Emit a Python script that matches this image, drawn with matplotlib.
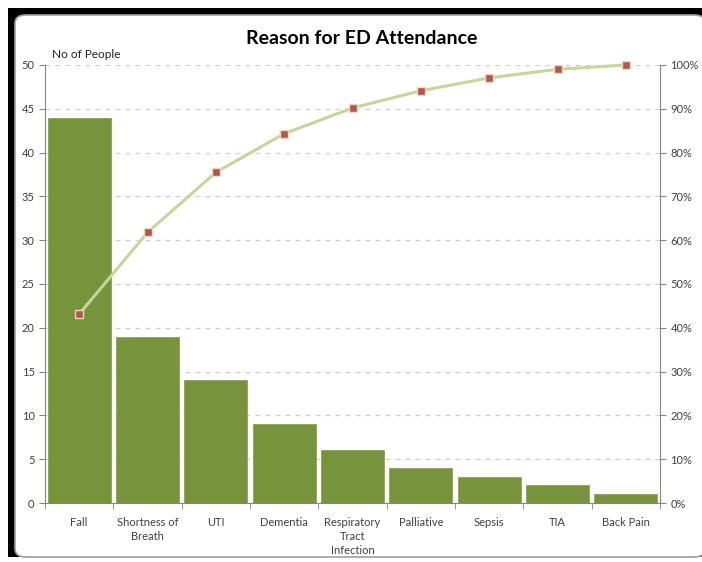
import numpy as np
import matplotlib
matplotlib.use("Agg")
import matplotlib.pyplot as plt
from matplotlib.patches import Rectangle, FancyBboxPatch
from matplotlib.ticker import PercentFormatter

plt.rcParams['font.family'] = ['Lato', 'DejaVu Sans']

# data
reasons = ["Fall", "Shortness of\nBreath", "UTI", "Dementia",
           "Respiratory\nTract\nInfection", "Palliative", "Sepsis", "TIA", "Back Pain"]
people = [44, 19, 14, 9, 6, 4, 3, 2, 1]

cum_pct = np.cumsum(people) / np.sum(people)

fig = plt.figure(figsize=(7.02, 5.62), dpi=100)
W, H = 702, 562

# black frame + white rounded card (card runs off the right edge)
fig.patches.append(Rectangle((8 / W, 5 / H), 1, 1 - 13 / H,
                             transform=fig.transFigure, facecolor="black",
                             edgecolor="none", zorder=-2))
fig.patches.append(FancyBboxPatch((15 / W, 5 / H), 690 / W, 1 - 20 / H,
                                  boxstyle="round,pad=0,rounding_size=0.015",
                                  transform=fig.transFigure, facecolor="white",
                                  edgecolor="#a0a0a0", linewidth=1.2, zorder=-1))

ax = fig.add_axes([45 / W, 59 / H, 615 / W, 438 / H])
ax.set_facecolor("none")
x = np.arange(len(reasons))
ax.bar(x, people, width=0.92, color="#77933c", edgecolor="#8aa64e", linewidth=0.6, zorder=2)

ax.set_xlim(-0.5, len(reasons) - 0.5)
ax.set_ylim(0, 50)
ax.set_yticks(np.arange(0, 51, 5))
ax.set_xticks(x)
ax.set_xticklabels(reasons, linespacing=1.32)
ax.set_xticks(np.arange(-0.5, len(reasons), 1), minor=True)
ax.tick_params(axis="x", which="major", length=0, pad=10, labelsize=8, labelcolor="#404040")
ax.tick_params(axis="x", which="minor", length=4, color="#868686", direction="out")
ax.tick_params(axis="y", length=4, color="#868686", labelsize=8, labelcolor="#404040")
ax.grid(axis="y", linestyle=(0, (4, 4)), color="#d0d0d0", linewidth=0.9, zorder=0)
for s in ["left", "bottom"]:
    ax.spines[s].set_color("#868686")
ax.spines["top"].set_visible(False)
ax.spines["right"].set_visible(False)

ax2 = ax.twinx()
ax2.plot(x, cum_pct, color="#c3d69b", linewidth=2.2, marker="s", markersize=6,
         markerfacecolor="#c0504d", markeredgecolor="#d7e4bd", markeredgewidth=1,
         zorder=5, clip_on=False)
ax2.set_ylim(0, 1)
ax2.set_yticks(np.arange(0, 1.01, 0.1))
ax2.yaxis.set_major_formatter(PercentFormatter(1.0, decimals=0))
ax2.tick_params(axis="y", length=4, color="#868686", labelsize=8, labelcolor="#404040")
ax2.spines["right"].set_color("#868686")
for s in ["left", "top", "bottom"]:
    ax2.spines[s].set_visible(False)

fig.text(0.515, 1 - 38 / H, "Reason for ED Attendance", ha="center", va="center",
         fontsize=14, fontweight="bold", color="black")
fig.text(52 / W, 1 - 55 / H, "No of People", ha="left", va="center",
         fontsize=8.5, color="#202020")

fig.savefig("out.png", dpi=100)
